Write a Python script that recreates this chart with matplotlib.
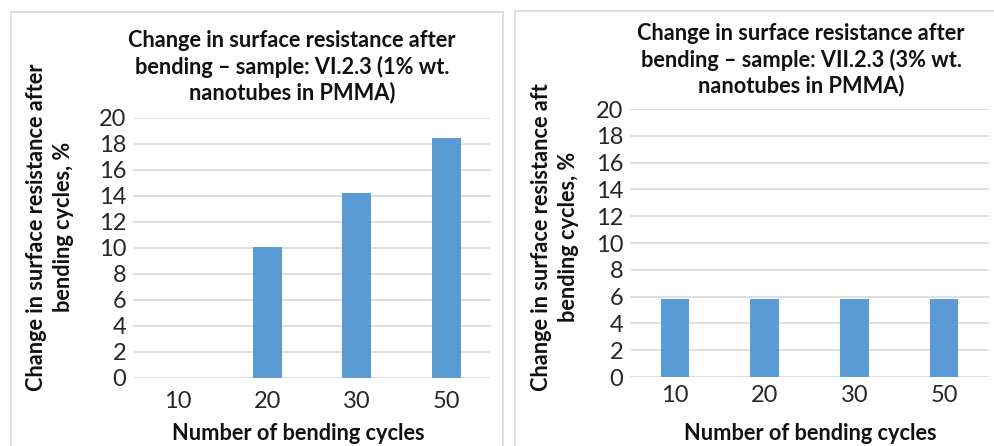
import numpy as np
import matplotlib.pyplot as plt
from matplotlib.patches import Rectangle

cycles = ['10', '20', '30', '50']
left_values = [0, 10.1, 14.2, 18.5]
right_values = [5.8, 5.8, 5.8, 5.8]
yticks = list(range(0, 21, 2))

left_title = 'Change in surface resistance after\nbending – sample: VI.2.3 (1% wt.\nnanotubes in PMMA)'
right_title = 'Change in surface resistance after\nbending – sample: VII.2.3 (3% wt.\nnanotubes in PMMA)'
left_ylabel = 'Change in surface resistance after\nbending cycles, %'
right_ylabel = 'Change in surface resistance aft\nbending cycles, %'
xlabel = 'Number of bending cycles'

plt.rcParams['font.family'] = ['Lato', 'DejaVu Sans']
W, H = 995, 446
fig = plt.figure(figsize=(W / 100, H / 100), dpi=100)
fig.patch.set_facecolor('white')

# panel borders
for x0, y0, x1 in [(11, 12, 503), (515, 11, 1000)]:
    fig.patches.append(Rectangle((x0 / W, -0.05), (x1 - x0) / W, 1 - y0 / H + 0.05,
                                 transform=fig.transFigure, fill=False,
                                 edgecolor='#d9d9d9', linewidth=1.2))

def panel(rect, values, title, title_xy, ylabel, ylabel_xy, tick_pad, xlabel_xy):
    ax = fig.add_axes([rect[0] / W, 1 - rect[3] / H, (rect[1] - rect[0]) / W, (rect[3] - rect[2]) / H])
    x = np.arange(len(cycles))
    ax.bar(x, values, width=0.32, color='#5b9bd5', zorder=3)
    ax.set_xlim(-0.5, len(cycles) - 0.5)
    ax.set_ylim(0, 20)
    ax.set_yticks(yticks)
    ax.set_xticks(x)
    ax.set_xticklabels(cycles)
    ax.yaxis.grid(True, color='#d9d9d9', linewidth=1.2, zorder=0)
    for s in ax.spines.values():
        s.set_visible(False)
    ax.tick_params(length=0, labelsize=17, colors='#262626')
    ax.tick_params(axis='x', pad=tick_pad)
    ax.tick_params(axis='y', pad=5)
    fig.text(title_xy[0] / W, 1 - title_xy[1] / H, title, ha='center', va='center',
             fontsize=15.7, fontweight='bold', linespacing=1.25, color='#111111')
    fig.text(ylabel_xy[0] / W, 1 - ylabel_xy[1] / H, ylabel, ha='center', va='center',
             rotation=90, fontsize=15.7, fontweight='bold', linespacing=1.35, color='#111111')
    fig.text(xlabel_xy[0] / W, 1 - xlabel_xy[1] / H, xlabel, ha='center', va='center',
             fontsize=15.7, fontweight='bold', color='#111111')
    return ax

panel((133, 491, 118, 378), left_values, left_title, (292, 67), left_ylabel, (50, 227), 9, (298, 434))
panel((630, 989, 109, 377), right_values, right_title, (801, 60), right_ylabel, (555, 237), 6, (810, 434))

fig.savefig('out.png', dpi=100)
